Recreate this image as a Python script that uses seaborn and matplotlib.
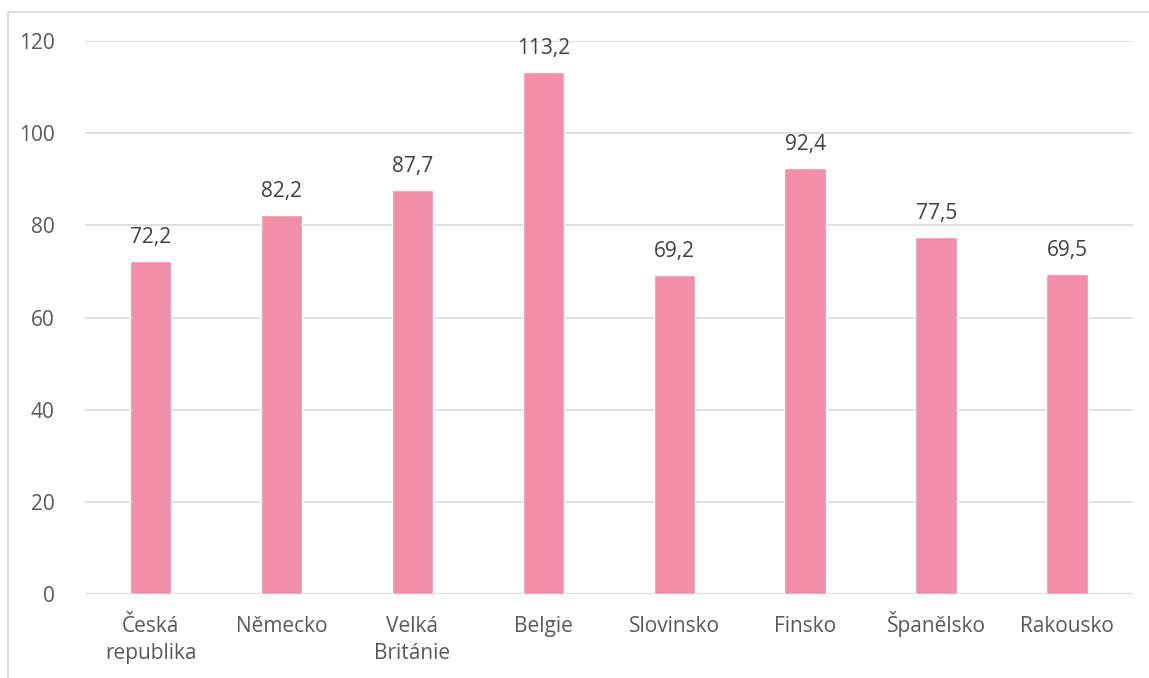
import matplotlib
matplotlib.use("Agg")
import matplotlib.pyplot as plt
from matplotlib.patches import Rectangle
import seaborn as sns
import pandas as pd

# Data
countries = ["Česká\nrepublika", "Německo", "Velká\nBritánie", "Belgie",
             "Slovinsko", "Finsko", "Španělsko", "Rakousko"]
values = [72.2, 82.2, 87.7, 113.2, 69.2, 92.4, 77.5, 69.5]
y_ticks = [0, 20, 40, 60, 80, 100, 120]

BAR = "#F18EAA"
TEXT = "#595959"
VALUE_TEXT = "#404040"
GRID = "#D9D9D9"

sns.set_theme(style="white")
plt.rcParams["font.family"] = ["Open Sans", "DejaVu Sans"]

df = pd.DataFrame({"country": countries, "value": values})

fig = plt.figure(figsize=(11.49, 6.78), dpi=100)
ax = fig.add_axes([0.074, 0.1239, 0.912, 0.8156])

sns.barplot(data=df, x="country", y="value", color=BAR, width=0.32,
            saturation=1, ax=ax, zorder=3)

ax.set_ylim(0, 120)
ax.set_yticks(y_ticks)
ax.set_xlim(-0.5, len(countries) - 0.5)
ax.yaxis.grid(True, color=GRID, linewidth=1.2, zorder=0)
ax.set_axisbelow(True)
for s in ax.spines.values():
    s.set_visible(False)
ax.axhline(0, color=GRID, linewidth=1.5, zorder=2)

ax.set_xlabel("")
ax.set_ylabel("")
ax.tick_params(axis="both", length=0, labelsize=15, labelcolor=TEXT)
ax.tick_params(axis="y", pad=22)

# category labels: each line placed on its own baseline below the axis
ax.set_xticks(range(len(countries)), [""] * len(countries))
for i, name in enumerate(countries):
    for k, line in enumerate(name.split("\n")):
        ax.annotate(line, (i, 0), xytext=(0, -38 - 27 * k),
                    textcoords="offset pixels", ha="center", va="baseline",
                    fontsize=15, color=TEXT, annotation_clip=False)

# value labels with decimal comma
for i, v in enumerate(values):
    ax.annotate(f"{v:.1f}".replace(".", ","), (i, v), xytext=(0, 13),
                textcoords="offset points", ha="center", va="baseline",
                fontsize=15, color=VALUE_TEXT)

# chart frame
fig.patches.append(Rectangle((8 / 1149, -0.5), 2, 1.5 - 12 / 678,
                             transform=fig.transFigure, fill=False,
                             edgecolor=GRID, linewidth=1.2))

fig.savefig("out.png", dpi=100, facecolor="white")
